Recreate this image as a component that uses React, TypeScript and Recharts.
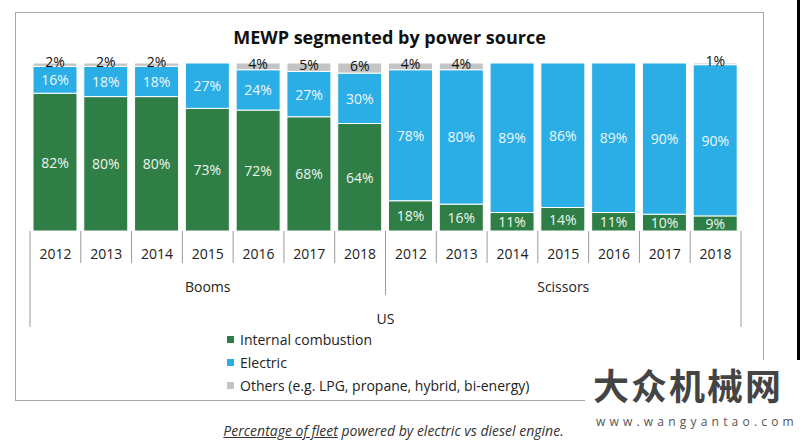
import React from 'react';
import { BarChart, Bar, XAxis, YAxis, Legend, LabelList } from 'recharts';

const years = ['2012', '2013', '2014', '2015', '2016', '2017', '2018'];
const groups = ['Booms', 'Scissors'];
const region = 'US';

const boomsCombustion = [82, 80, 80, 73, 72, 68, 64];
const boomsElectric = [16, 18, 18, 27, 24, 27, 30];
const boomsOthers = [2, 2, 2, 0, 4, 5, 6];

const scissorsCombustion = [18, 16, 11, 14, 11, 10, 9];
const scissorsElectric = [78, 80, 89, 86, 89, 90, 90];
const scissorsOthers = [4, 4, 0, 0, 0, 0, 1];

const seriesNames = ['Internal combustion', 'Electric', 'Others (e.g. LPG, propane, hybrid, bi-energy)'];

const GREEN = '#2f7e45';
const BLUE = '#2aaee5';
const GREY = '#c4c4c4';
const FONT = '"Open Sans", sans-serif';

const data = [
  ...years.map((y, i) => ({
    key: `${groups[0]}-${y}`,
    year: y,
    group: groups[0],
    combustion: boomsCombustion[i],
    electric: boomsElectric[i],
    others: boomsOthers[i],
  })),
  ...years.map((y, i) => ({
    key: `${groups[1]}-${y}`,
    year: y,
    group: groups[1],
    combustion: scissorsCombustion[i],
    electric: scissorsElectric[i],
    others: scissorsOthers[i],
  })),
];

const CHART_W = 800;
const M_LEFT = 30;
const M_RIGHT = 59;
const BAND = (CHART_W - M_LEFT - M_RIGHT) / data.length;

const AxisTick = (props: any) => {
  const { x, y, index } = props;
  const half = BAND / 2;
  const n = years.length;
  const row = data[index];
  const lineColor = '#9a9a9a';
  let len = 32;
  if (index === 0) len = 96;
  else if (index % n === 0) len = 64;
  return (
    <g>
      <line x1={x - half} x2={x - half} y1={y} y2={y + len} stroke={lineColor} strokeWidth={1} />
      {index === data.length - 1 && (
        <line x1={x + half} x2={x + half} y1={y} y2={y + 96} stroke={lineColor} strokeWidth={1} />
      )}
      <text x={x} y={y + 22} textAnchor="middle" dominantBaseline="central" fill="#222" fontSize={14} fontFamily={FONT}>
        {row ? row.year : ''}
      </text>
      {index % n === Math.floor(n / 2) && (
        <text x={x} y={y + 55} textAnchor="middle" dominantBaseline="central" fill="#222" fontSize={14} fontFamily={FONT}>
          {row.group}
        </text>
      )}
      {index === n - 1 && (
        <text x={x + half} y={y + 87} textAnchor="middle" dominantBaseline="central" fill="#222" fontSize={14} fontFamily={FONT}>
          {region}
        </text>
      )}
    </g>
  );
};

const makeLabel = (color: string, dy: number) => (props: any) => {
  const { x, y, width, height, value } = props;
  if (!value) return null;
  return (
    <text
      x={x + width / 2}
      y={y + height / 2 + dy}
      textAnchor="middle"
      dominantBaseline="central"
      fill={color}
      fontSize={14}
      fontFamily={FONT}
    >
      {`${value}%`}
    </text>
  );
};

const renderLegend = (props: any) => {
  const payload = [...(props.payload || [])].sort(
    (a: any, b: any) => seriesNames.indexOf(a.value) - seriesNames.indexOf(b.value)
  );
  return (
    <div style={{ fontFamily: FONT, fontSize: 14, color: '#222', lineHeight: '23px' }}>
      {payload.map((p: any) => (
        <div key={p.value} style={{ display: 'flex', alignItems: 'center', whiteSpace: 'nowrap' }}>
          <span style={{ display: 'inline-block', width: 7, height: 7, background: p.color, marginRight: 6 }} />
          <span>{p.value}</span>
        </div>
      ))}
    </div>
  );
};

export default function App() {
  return (
    <div
      style={{
        position: 'absolute',
        left: 0,
        top: 0,
        width: 800,
        height: 442,
        background: '#fff',
        overflow: 'hidden',
        fontFamily: FONT,
      }}
    >
      <div
        style={{
          position: 'absolute',
          left: 15,
          top: 12,
          width: 749,
          height: 389,
          border: '1px solid #a8a8a8',
          boxSizing: 'border-box',
        }}
      />
      <div
        style={{
          position: 'absolute',
          left: 15,
          width: 749,
          top: 25,
          textAlign: 'center',
          fontSize: 18,
          fontWeight: 700,
          color: '#111',
        }}
      >
        MEWP segmented by power source
      </div>
      <div style={{ position: 'absolute', left: 0, top: 0 }}>
        <BarChart
          width={CHART_W}
          height={442}
          data={data}
          margin={{ top: 63, right: M_RIGHT, left: M_LEFT, bottom: 111 }}
        >
          <XAxis
            dataKey="key"
            interval={0}
            height={100}
            tickLine={false}
            axisLine={false}
            tickSize={0}
            tickMargin={0}
            tick={<AxisTick />}
          />
          <YAxis hide domain={[0, 100]} />
          <Legend
            layout="horizontal"
            verticalAlign="middle"
            align="center"
            content={renderLegend}
            wrapperStyle={{ left: 227, top: 328, width: 360 }}
          />
          <Bar dataKey="combustion" name={seriesNames[0]} stackId="a" fill={GREEN} stroke="#fff" strokeWidth={1} barSize={44} isAnimationActive={false}>
            <LabelList dataKey="combustion" content={makeLabel('#eef6ee', 0)} />
          </Bar>
          <Bar dataKey="electric" name={seriesNames[1]} stackId="a" fill={BLUE} stroke="#fff" strokeWidth={1} barSize={44} isAnimationActive={false}>
            <LabelList dataKey="electric" content={makeLabel('#eef8fd', 0)} />
          </Bar>
          <Bar dataKey="others" name={seriesNames[2]} stackId="a" fill={GREY} stroke="#fff" strokeWidth={1} barSize={44} isAnimationActive={false}>
            <LabelList dataKey="others" content={makeLabel('#111', -3)} />
          </Bar>
        </BarChart>
      </div>
      <div
        style={{
          position: 'absolute',
          left: 15,
          width: 757,
          top: 421,
          textAlign: 'center',
          fontSize: 14,
          fontStyle: 'italic',
          color: '#333',
          whiteSpace: 'nowrap',
        }}
      >
        <span style={{ textDecoration: 'underline' }}>Percentage of fleet</span> powered by electric vs diesel engine.
      </div>
      <div
        style={{
          position: 'absolute',
          left: 585,
          top: 360,
          width: 215,
          height: 82,
          background: '#fff',
        }}
      >
        <div
          style={{
            position: 'absolute',
            left: 8,
            top: 6,
            fontFamily: '"Noto Sans CJK SC", sans-serif',
            fontWeight: 700,
            fontSize: 36,
            lineHeight: '36px',
            color: '#444',
            letterSpacing: 2,
          }}
        >
          大众机械网
        </div>
        <div
          style={{
            position: 'absolute',
            left: 11,
            top: 54,
            fontSize: 12,
            lineHeight: '16px',
            color: '#555',
            letterSpacing: 4.2,
          }}
        >
          www.wangyantao.com
        </div>
      </div>
      <div style={{ position: 'absolute', left: 797, top: 0, width: 3, height: 360, background: '#000' }} />
    </div>
  );
}
